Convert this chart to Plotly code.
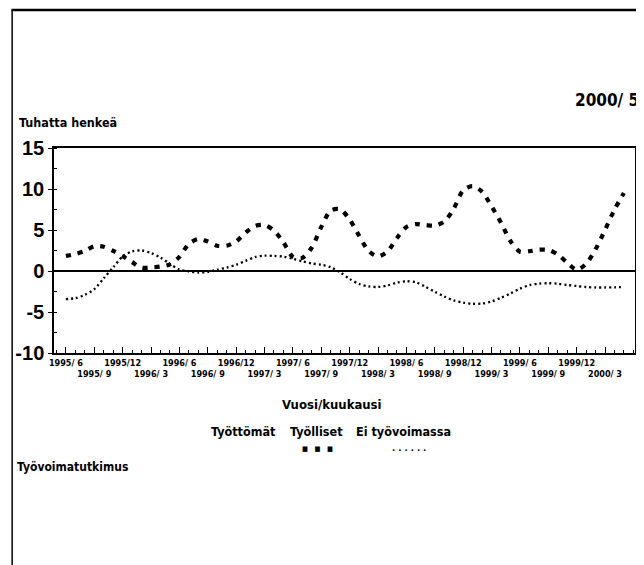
import plotly.graph_objects as go

# ---- data (thousand persons, change from a year earlier) ----
months = [f"{1995 + (m + 5) // 12}/{(m + 5) % 12 + 1:>2}" for m in range(60)]  # 1995/ 6 ... 2000/ 5

tyolliset = [1.84, 2.07, 2.45, 3.03, 2.96, 2.45, 1.82, 1.08, 0.41, 0.42,
             0.55, 0.81, 1.72, 3.30, 3.90, 3.60, 3.08, 3.08, 3.60, 4.69,
             5.48, 5.60, 4.93, 3.48, 1.72, 1.60, 2.87, 5.36, 7.38, 7.52,
             6.27, 4.30, 2.45, 1.78, 2.39, 4.02, 5.36, 5.72, 5.60, 5.54,
             6.02, 7.60, 9.84, 10.35, 9.66, 7.90, 5.90, 3.66, 2.35, 2.41,
             2.59, 2.57, 2.02, 1.02, 0.15, 0.87, 2.65, 5.00, 7.48, 9.52]

ei_tyovoimassa = [-3.43, -3.31, -2.90, -2.22, -0.88, 0.45, 1.78, 2.39, 2.51, 2.19,
                  1.64, 0.87, 0.18, -0.05, -0.18, -0.11, 0.17, 0.41, 0.76, 1.24,
                  1.70, 1.88, 1.84, 1.75, 1.49, 1.18, 0.92, 0.76, 0.45, -0.16,
                  -0.97, -1.58, -1.88, -1.95, -1.77, -1.41, -1.25, -1.37, -1.92, -2.53,
                  -3.10, -3.59, -3.85, -3.99, -3.97, -3.71, -3.27, -2.74, -2.16, -1.73,
                  -1.54, -1.49, -1.54, -1.71, -1.83, -1.95, -2.01, -2.01, -1.99, -1.94]

y_tickvals = [15, 10, 5, 0, -5, -10]
y_ticktext = ["15", "10", "5", "0", "-5", "-10"]
x_tickvals = list(range(0, 60, 3))
x_ticktext = [months[i] if k % 2 == 0 else "<br>" + months[i] for k, i in enumerate(x_tickvals)]

legend_names = ["Työttömät", "Työlliset", "Ei työvoimassa"]

NARROW = "Liberation Sans Narrow, DejaVu Sans Condensed, Arial Narrow, Liberation Sans, sans-serif"
WIDE = "Liberation Sans, Arial, sans-serif"

OFF = 8                      # page body margin of the browser
W, H = 644 - OFF, 565 - OFF
L, R, T, B = 51, 637, 148, 353   # plot area in window pixels


def px(x):
    return (x - L) / (R - L)


def py(y):
    return (B - y) / (B - T)


x_idx = list(range(len(months)))

fig = go.Figure()
fig.add_trace(go.Scatter(x=x_idx, y=tyolliset, mode="lines", name=legend_names[1],
                         line=dict(color="black", width=4.2, dash="5px,7px", shape="spline", smoothing=0.8)))
fig.add_trace(go.Scatter(x=x_idx, y=ei_tyovoimassa, mode="lines", name=legend_names[2],
                         line=dict(color="black", width=2.3, dash="2px,3px", shape="spline", smoothing=0.8)))

fig.update_layout(
    width=W, height=H,
    margin=dict(l=L - OFF, r=W - (R - OFF), t=T - OFF, b=H - (B - OFF)),
    paper_bgcolor="white", plot_bgcolor="white",
    showlegend=False,
    font=dict(family=NARROW, color="black"),
)
fig.update_xaxes(
    range=[-1.26, 60.17], showgrid=False, zeroline=False,
    showline=True, mirror=True, linecolor="black", linewidth=1.5,
    tickvals=x_tickvals, ticktext=x_ticktext,
    ticks="inside", ticklen=6, tickcolor="black", tickwidth=1,
    minor=dict(dtick=1, tick0=0, ticks="inside", ticklen=3, tickcolor="black"),
    tickfont=dict(family=NARROW, size=9, weight="bold"),
    tickangle=0,
)
fig.update_yaxes(
    range=[-10, 15], showgrid=False,
    zeroline=True, zerolinecolor="black", zerolinewidth=2,
    showline=True, mirror=True, linecolor="black", linewidth=1.5,
    tickvals=y_tickvals, ticktext=y_ticktext,
    ticks="outside", ticklen=4, tickcolor="black",
    minor=dict(dtick=2.5, tick0=0, ticks="inside", ticklen=3, tickcolor="black"),
    tickfont=dict(family=WIDE, size=20, weight="bold"),
)

NB = "\u00a0"
ann = [
    dict(text="Tuhatta henkeä", x=px(14), y=py(122), xanchor="left", size=12.5),
    dict(text="2000/ 5", x=px(643), y=py(100), xanchor="right", size=17),
    dict(text="Vuosi/kuukausi", x=px(331), y=py(404), xanchor="center", size=13),
    dict(text=legend_names[0], x=px(242), y=py(431), xanchor="center", size=12.5),
    dict(text=legend_names[1], x=px(316), y=py(431), xanchor="center", size=12.5),
    dict(text=legend_names[2], x=px(404), y=py(431), xanchor="center", size=12.5),
    dict(text=(NB * 3).join(["■", "■", "■"]), x=px(317), y=py(449), xanchor="center", size=7),
    dict(text=NB.join(["·"] * 6), x=px(409), y=py(449), xanchor="center", size=9.5),
    dict(text="Työvoimatutkimus", x=px(12), y=py(467), xanchor="left", size=12),
]
for a in ann:
    fig.add_annotation(text=a["text"], x=a["x"], y=a["y"], xref="paper", yref="paper",
                       xanchor=a["xanchor"], yanchor="middle", showarrow=False,
                       font=dict(family=NARROW, size=a["size"], color="black", weight="bold"))

# page frame (top and left rules of the scanned page)
fig.add_shape(type="line", xref="paper", yref="paper", x0=px(8), x1=px(650), y0=py(10), y1=py(10),
              line=dict(color="black", width=2.5))
fig.add_shape(type="line", xref="paper", yref="paper", x0=px(8.8), x1=px(8.8), y0=py(10), y1=py(570),
              line=dict(color="black", width=1.5))

fig.write_html("out.html")
